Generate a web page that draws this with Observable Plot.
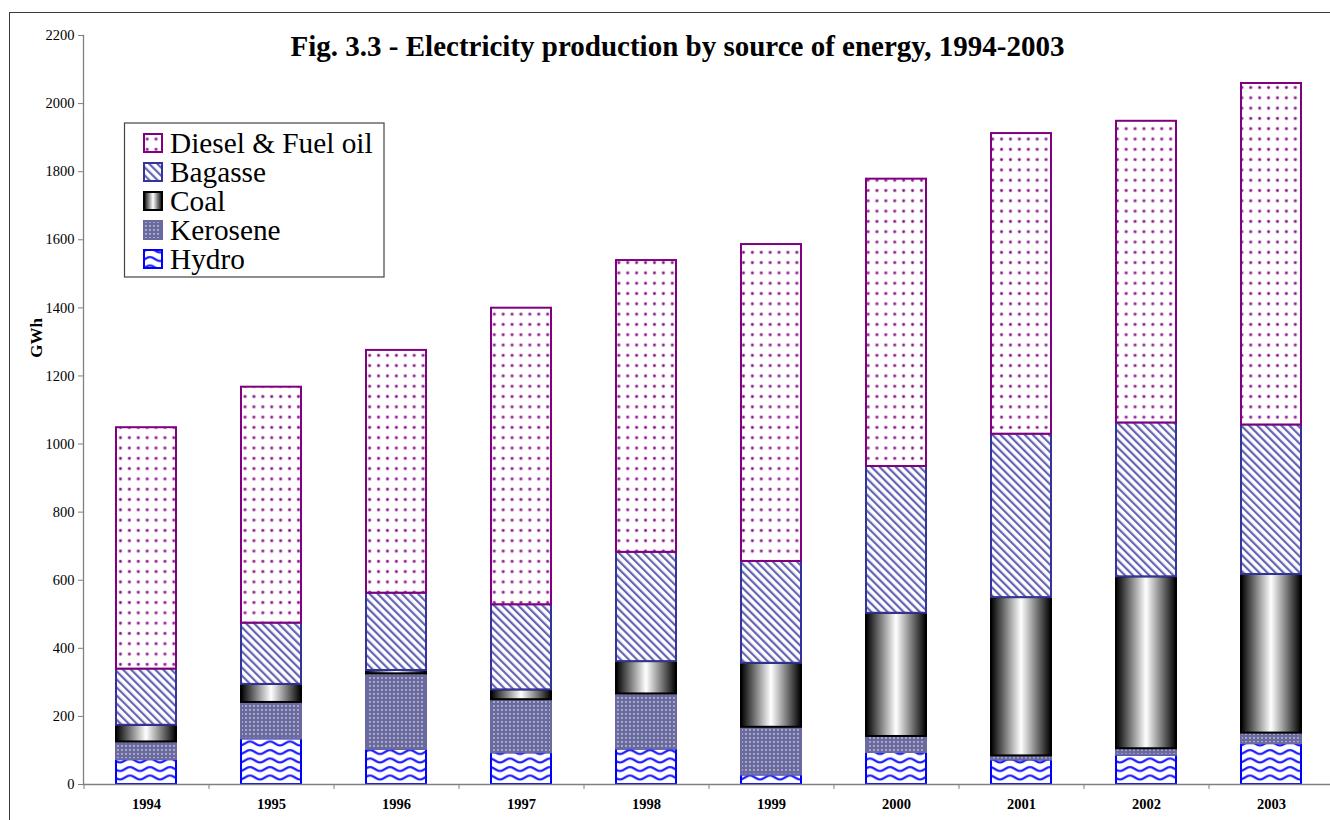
<!DOCTYPE html>
<html>
<head>
<meta charset="utf-8">
<script src="https://cdn.jsdelivr.net/npm/d3@7"></script>
<script src="https://cdn.jsdelivr.net/npm/@observablehq/plot@0.6"></script>
<style>
  html, body { margin: 0; padding: 0; background: #fff; }
  #wrap { position: relative; width: 1330px; height: 820px; overflow: hidden; font-family: "Liberation Serif", "Times New Roman", serif; }
  #chart { position: absolute; left: 0; top: 0; }
  #overlay { position: absolute; left: 0; top: 0; pointer-events: none; }
  #frame { position: absolute; left: 9px; top: 12px; width: 1400px; height: 900px; border: 1.5px solid #3a3a3a; box-sizing: border-box; pointer-events: none; }
</style>
</head>
<body>
<div id="wrap">
  <div id="chart"></div>
  <svg id="overlay" width="1330" height="820" xmlns="http://www.w3.org/2000/svg">
    <defs>
      <pattern id="pDiesel" patternUnits="userSpaceOnUse" width="8.9" height="10.3" x="116" y="0">
        <rect width="8.9" height="10.3" fill="#fff"/>
        <circle cx="4.45" cy="5.15" r="2.1" fill="#ecd2ec"/>
        <circle cx="4.45" cy="5.15" r="1.3" fill="#861686"/>
      </pattern>
      <pattern id="pBagasse" patternUnits="userSpaceOnUse" width="5.7" height="5.7" patternTransform="rotate(-45)">
        <rect width="5.7" height="5.7" fill="#fff"/>
        <rect width="2.2" height="5.7" fill="#6464b4"/>
      </pattern>
      <linearGradient id="gCoal" x1="0" x2="1" y1="0" y2="0">
        <stop offset="0" stop-color="#000"/>
        <stop offset="0.5" stop-color="#fff"/>
        <stop offset="1" stop-color="#000"/>
      </linearGradient>
      <pattern id="pKero" patternUnits="userSpaceOnUse" width="4" height="4">
        <rect width="4" height="4" fill="#6a6a9e"/>
        <rect x="1.2" y="1.2" width="1.5" height="1.5" fill="#d6d6e6"/>
      </pattern>
      <pattern id="pHydro" patternUnits="userSpaceOnUse" width="20" height="8.5">
        <rect width="20" height="8.5" fill="#fff"/>
        <path d="M0,6 C4,6 6,2 10,2 C14,2 16,6 20,6" fill="none" stroke="#1a1aff" stroke-width="2.2"/>
      </pattern>
    </defs>
    <text x="677.5" y="56" text-anchor="middle" font-size="29" font-weight="bold" font-family="'Liberation Serif', serif">Fig. 3.3 - Electricity production by source of energy, 1994-2003</text>
    <text transform="translate(42,338) rotate(-90)" text-anchor="middle" font-size="17" font-weight="bold" font-family="'Liberation Serif', serif">GWh</text>
    <g id="legend"></g>
  </svg>
  <div id="frame"></div>
</div>
<script>
// ---- data (GWh) ----
const years = ["1994", "1995", "1996", "1997", "1998", "1999", "2000", "2001", "2002", "2003"];
const sources = ["Hydro", "Kerosene", "Coal", "Bagasse", "Diesel & Fuel oil"];
const hydro    = [73, 134, 103, 93, 104, 28, 94, 72, 86, 120];
const kerosene = [52, 107, 222, 156, 162, 140, 47, 12, 19, 31];
const coal     = [49, 53, 10, 29, 95, 188, 362, 465, 505, 466];
const bagasse  = [165, 180, 227, 250, 321, 299, 431, 480, 452, 439];
const diesel   = [709, 693, 713, 871, 857, 931, 844, 883, 886, 1003];
const yTicks = [0, 200, 400, 600, 800, 1000, 1200, 1400, 1600, 1800, 2000, 2200];
const legendOrder = ["Diesel & Fuel oil", "Bagasse", "Coal", "Kerosene", "Hydro"];

// ---- styling ----
const fills = {"Hydro": "url(#pHydro)", "Kerosene": "url(#pKero)", "Coal": "url(#gCoal)", "Bagasse": "url(#pBagasse)", "Diesel & Fuel oil": "url(#pDiesel)"};
const strokes = {"Hydro": "#0000ff", "Kerosene": "#6a6aa0", "Coal": "#000000", "Bagasse": "#333399", "Diesel & Fuel oil": "#800080"};

const series = {"Hydro": hydro, "Kerosene": kerosene, "Coal": coal, "Bagasse": bagasse, "Diesel & Fuel oil": diesel};
const rows = [];
years.forEach((year, i) => sources.forEach(source => rows.push({year, source, value: series[source][i]})));

const step = 1250 / years.length;

const chart = Plot.plot({
  width: 1330,
  height: 820,
  marginLeft: 83,
  marginRight: 0,
  marginTop: 35,
  marginBottom: 36,
  style: {fontFamily: "'Liberation Serif', 'Times New Roman', serif", color: "#000", background: "transparent", overflow: "visible"},
  x: {domain: years, range: [83, 1333], paddingInner: 0.52, paddingOuter: 0.26, label: null},
  y: {domain: [0, 2200], label: null},
  color: {domain: sources, range: sources.map(s => fills[s])},
  marks: [
    Plot.barY(rows, {x: "year", y: "value", fill: "source", order: sources}),
    Plot.frame({anchor: "left", stroke: "#808080", strokeWidth: 1.3}),
    Plot.ruleY([0], {stroke: "#808080", strokeWidth: 1.5}),
    Plot.axisY({ticks: yTicks, tickFormat: d => String(d), tickSize: 5, tickPadding: 4, fontSize: 14.5, stroke: "#808080", fill: "#000", label: null}),
    Plot.axisX({tickSize: 0, tickPadding: 14, fontSize: 14.5, fontWeight: "bold", fill: "#000", label: null}),
    Plot.axisX({tickSize: 5, tickFormat: () => "", dx: -step / 2, stroke: "#808080", label: null})
  ]
});
document.getElementById("chart").appendChild(chart);

// apply segment outlines by source
const strokeByFill = {};
sources.forEach(s => strokeByFill[fills[s]] = strokes[s]);
d3.select(chart).selectAll("rect").each(function () {
  const f = this.getAttribute("fill");
  if (strokeByFill[f]) {
    this.setAttribute("stroke", strokeByFill[f]);
    this.setAttribute("stroke-width", 2);
  }
});

// legend
const lg = d3.select("#legend");
lg.append("rect").attr("x", 124.5).attr("y", 123).attr("width", 259.5).attr("height", 154)
  .attr("fill", "#fff").attr("stroke", "#444").attr("stroke-width", 1.2);
legendOrder.forEach((s, i) => {
  const y0 = 134 + i * 29;
  lg.append("rect").attr("x", 144).attr("y", y0).attr("width", 18).attr("height", 18)
    .attr("fill", fills[s]).attr("stroke", strokes[s]).attr("stroke-width", 2);
  lg.append("text").attr("x", 170).attr("y", y0 + 18.5).attr("font-size", 29.3)
    .attr("font-family", "'Liberation Serif', serif").text(s);
});
</script>
</body>
</html>
